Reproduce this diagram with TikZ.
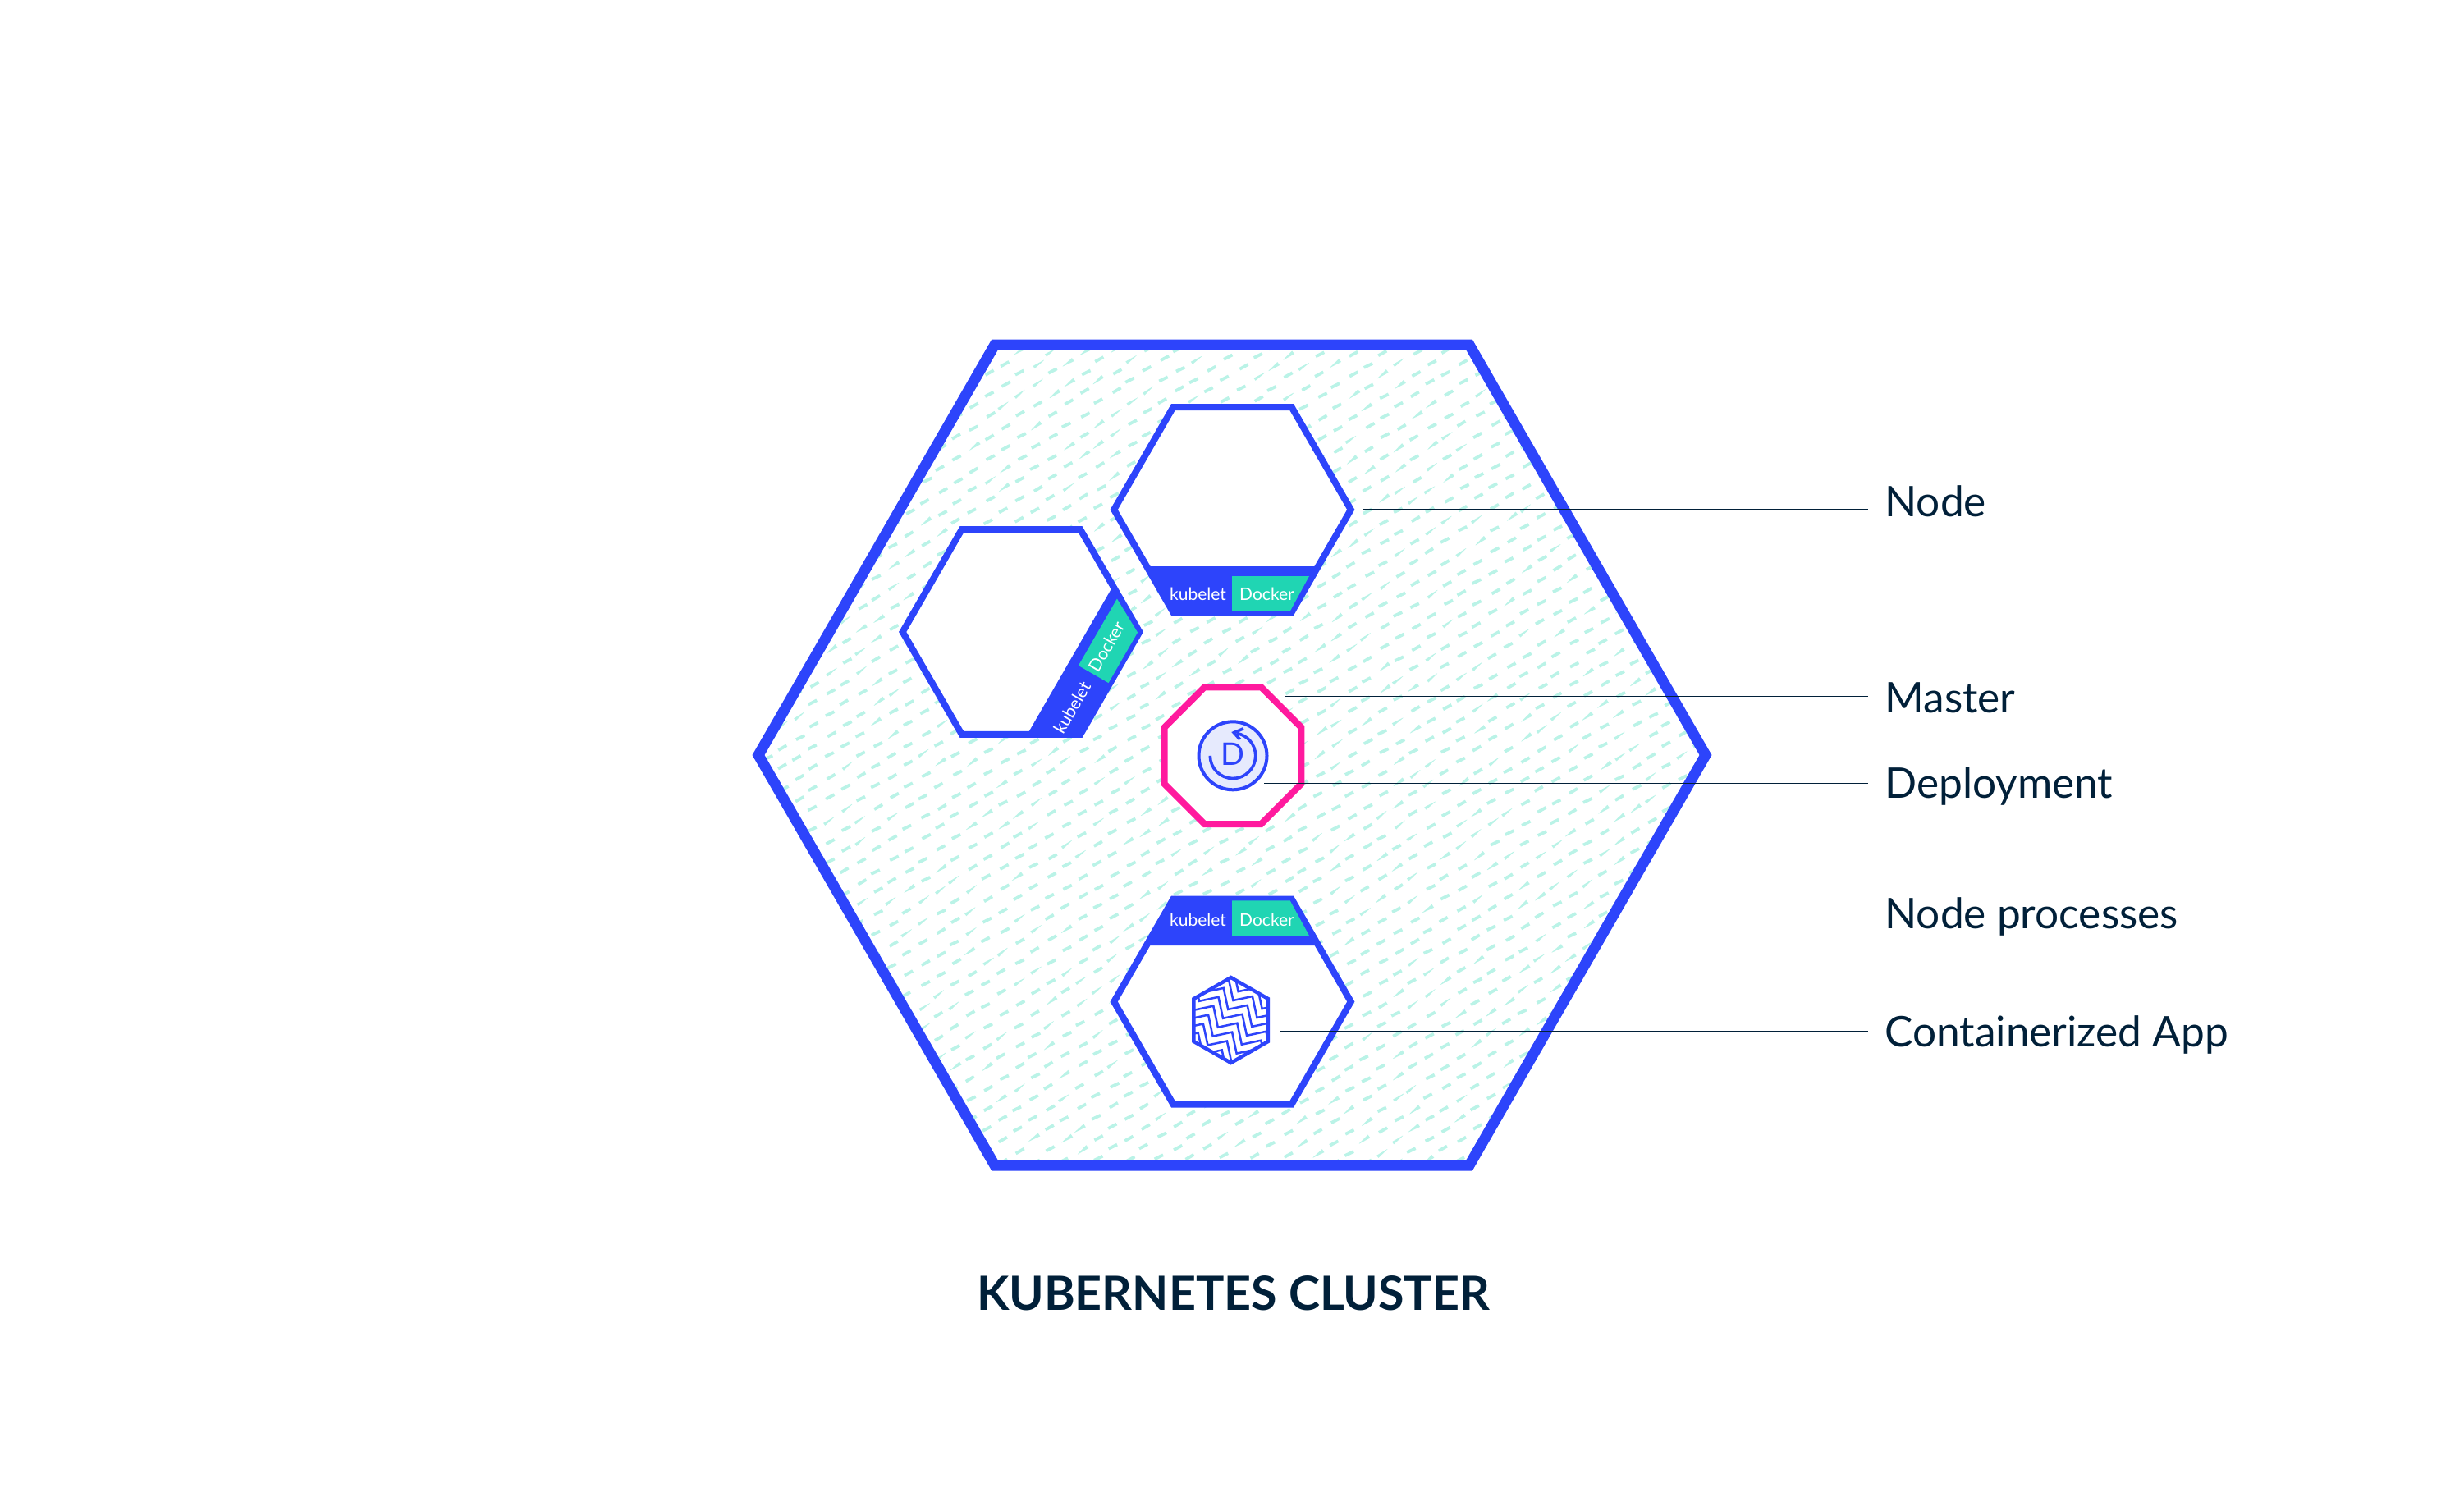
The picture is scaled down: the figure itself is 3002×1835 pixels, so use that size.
\documentclass[tikz,border=0pt]{standalone}
\usepackage{fontspec}
\setmainfont{Lato}
\definecolor{kblue}{HTML}{2D44FB}
\definecolor{kteal}{HTML}{20D5B3}
\definecolor{khatch}{HTML}{BAF3E7}
\definecolor{kpink}{HTML}{FF1A9E}
\definecolor{kdark}{HTML}{012039}
\definecolor{kpale}{HTML}{E6EAFD}
\tikzset{
  x=0.5pt,y=-0.5pt,
  clusterhex/.style={draw=kblue,line width=6.5pt,miter limit=10},
  nodehex/.style={draw=kblue,fill=white,line width=4pt},
  bandfill/.style={fill=kblue},
  dockerfill/.style={fill=kteal},
  lbl/.style={anchor=base west,inner sep=0pt,text=kdark,font=\fontsize{25.7}{30}\selectfont},
  tinytext/.style={inner sep=0pt,text=white,font=\fontsize{10.5}{12}\selectfont},
  leader/.style={draw=kdark,line width=0.75pt},
}
\newcommand{\kubeHex}{(-144.3,0) -- (-72.15,-125) -- (72.15,-125) -- (144.3,0) -- (72.15,125) -- (-72.15,125) -- cycle}
\begin{document}
\begin{tikzpicture}
\useasboundingbox (0,0) rectangle (3002,1835);
% cluster hatch
\begin{scope}
\clip (924,920) -- (1212,420) -- (1790,420) -- (2078,920) -- (1790,1420) -- (1212,1420) -- cycle;
\pgfmathsetseed{42}
\foreach \j in {-20,...,58}{
  \pgfmathsetmacro\ist{int(round((920-1859+19.3*\j)/38.5))}
  \foreach \k in {0,...,31}{
    \pgfmathsetmacro\cx{1859+38.5*(\ist+\k)-19.3*\j+5*rnd-2.5}
    \pgfmathsetmacro\cy{669-(\ist+\k)+13.3*\j+4*rnd-2}
    \pgfmathsetmacro\rr{rnd}
    \pgfmathsetmacro\ang{ifthenelse(\rr<0.28,36,28)+6*rnd-3}
    \pgfmathsetmacro\ta{ifthenelse(\rr<0.14,0.2,1.9)}
    \pgfmathsetmacro\tb{ifthenelse(\rr<0.28,ifthenelse(\rr<0.14,2.4,0.2),1.9)}
    \pgfmathsetmacro\hl{ifthenelse(\rr<0.28,7.5,5.8)}
    \fill[khatch,shift={(\cx,\cy)},rotate=\ang] (-\hl,-\ta) -- (\hl,-\tb) -- (\hl,\tb) -- (-\hl,\ta) -- cycle;
  }
}
\end{scope}
\draw[clusterhex] (924,920) -- (1212,420) -- (1790,420) -- (2078,920) -- (1790,1420) -- (1212,1420) -- cycle;

% top worker
\begin{scope}[shift={(1501.5,621)}]
  \draw[nodehex] \kubeHex;
  \fill[bandfill] (-104.5,69) -- (104.5,69) -- (72.15,125) -- (-72.15,125) -- cycle;
  \fill[dockerfill] (-0.5,81) -- (93.5,81) -- (70.5,123.3) -- (-0.5,123.3) -- cycle;
  \node[tinytext] (kubeA) at (-42,103) {kubelet};
  \node[tinytext] (dockA) at (42,103) {Docker};
\end{scope}

% left worker
\begin{scope}[shift={(1244,770)},rotate=60,transform shape]
  \draw[nodehex] \kubeHex;
  \fill[bandfill] (-104.5,69) -- (104.5,69) -- (72.15,125) -- (-72.15,125) -- cycle;
  \fill[dockerfill] (-0.5,81) -- (93.5,81) -- (70.5,123.3) -- (-0.5,123.3) -- cycle;
  \node[tinytext] (kubeB) at (-48.7,99.7) {kubelet};
  \node[tinytext] (dockB) at (36.4,99) {Docker};
\end{scope}

% bottom worker
\begin{scope}[shift={(1501.5,1220.5)}]
  \draw[nodehex] \kubeHex;
  \fill[bandfill] (-104.5,-68.5) -- (104.5,-68.5) -- (72.15,-125) -- (-72.15,-125) -- cycle;
  \fill[dockerfill] (-0.5,-80.5) -- (93.5,-80.5) -- (70.2,-123.2) -- (-0.5,-123.2) -- cycle;
  \node[tinytext] (kubeC) at (-42,-100) {kubelet};
  \node[tinytext] (dockC) at (42,-100) {Docker};
\end{scope}

% containerized app icon
\begin{scope}
  \fill[white] (1499.7,1191) -- (1545,1217) -- (1545,1269) -- (1499.7,1295) -- (1454.4,1269) -- (1454.4,1217) -- cycle;
  \clip (1499.7,1191) -- (1545,1217) -- (1545,1269) -- (1499.7,1295) -- (1454.4,1269) -- (1454.4,1217) -- cycle;
  \foreach \n in {-9,...,9}{
    \pgfmathsetmacro\sx{1478.3-6.2*\n-3*29-23.5}
    \pgfmathsetmacro\sy{1225.7+10.9*\n-3*21+5}
    \draw[kblue,line width=1.25pt,line join=miter]
      (\sx,\sy)
      \foreach \p in {0,...,6}{ -- ++(23.5,-5) -- ++(5.5,26) } -- ++(23.5,-5);
  }
\end{scope}
\draw[kblue,line width=2.2pt] (1499.7,1191) -- (1545,1217) -- (1545,1269) -- (1499.7,1295) -- (1454.4,1269) -- (1454.4,1217) -- cycle;

% master
\draw[kpink,fill=white,line width=4pt]
  (1467.5,837.3) -- (1536.5,837.3) -- (1585.3,886.2) -- (1585.3,955.2) -- (1536.5,1004) -- (1467.5,1004) -- (1418.7,955.2) -- (1418.7,886.2) -- cycle;

% deployment icon
\filldraw[draw=kblue,fill=kpale,line width=2pt] (1502,920.8) circle[radius=41.5];
\draw[kblue,line width=1.8pt] (1474.3,920.8) arc[start angle=180,end angle=-80,radius=27.7];
\draw[kblue,line width=1.8pt,line join=miter] (1515,887.7) -- (1503.3,892.7) -- (1510.7,901);
\node[inner sep=0pt,text=kblue,font=\fontsize{19}{22}\selectfont] (depD) at (1501.7,919) {D};

% labels
\node[lbl] (lblNode) at (2296,629.5) {Node};
\node[lbl] (lblMaster) at (2296,868) {Master};
\node[lbl] (lblDeploy) at (2296,972) {Deployment};
\node[lbl] (lblProc) at (2296,1131) {Node processes};
\node[lbl] (lblApp) at (2296,1275.5) {Containerized App};
\coordinate (fromNode) at (1661,621);
\coordinate (fromMaster) at (1565,848.3);
\coordinate (fromDeploy) at (1540,954.3);
\coordinate (fromProc) at (1604,1118.7);
\coordinate (fromApp) at (1559,1256.7);
\coordinate (toEnd) at (2276,0);
\draw[leader] (fromNode) -- (fromNode -| toEnd);
\draw[leader] (fromMaster) -- (fromMaster -| toEnd);
\draw[leader] (fromDeploy) -- (fromDeploy -| toEnd);
\draw[leader] (fromProc) -- (fromProc -| toEnd);
\draw[leader] (fromApp) -- (fromApp -| toEnd);

\node[anchor=base,inner sep=0pt,text=kdark,font=\bfseries\fontsize{28.7}{32}\selectfont] (title) at (1502.5,1596.7) {KUBERNETES CLUSTER};
\end{tikzpicture}
\end{document}
